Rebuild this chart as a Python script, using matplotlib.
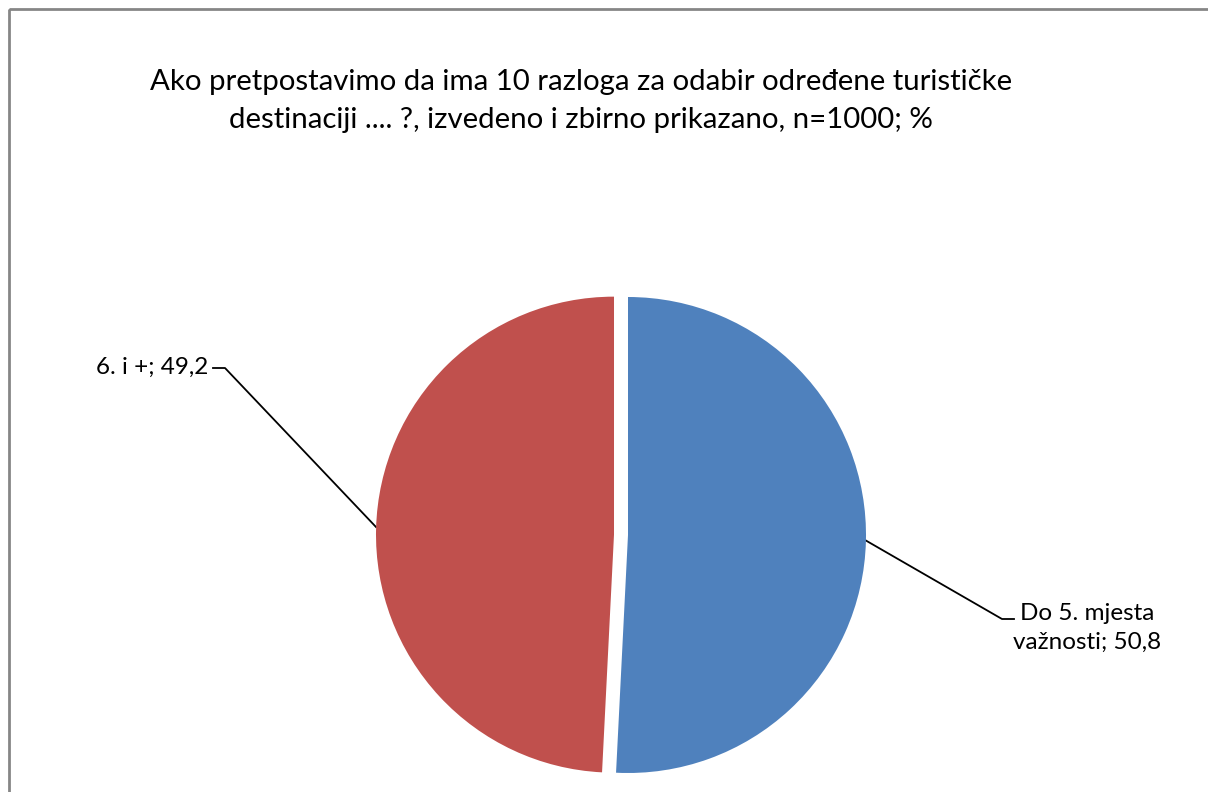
import matplotlib.pyplot as plt
from matplotlib.patches import Rectangle

# data
labels = ['Do 5. mjesta\nvažnosti', '6. i +']
values = [50.8, 49.2]
value_text = ['50,8', '49,2']
colors = ['#4F81BD', '#C0504D']
title = ('Ako pretpostavimo da ima 10 razloga za odabir određene turističke\n'
         'destinaciji .... ?, izvedeno i zbirno prikazano, n=1000; %')

W, H = 1208, 792
plt.rcParams['font.family'] = ['Lato', 'DejaVu Sans']

fig = plt.figure(figsize=(W / 100, H / 100), dpi=100)
ax = fig.add_axes([0, 0, 1, 1])
ax.set_xlim(0, W)
ax.set_ylim(H, 0)
ax.axis('off')

# outer chart border (cut at right/bottom like the source)
ax.add_patch(Rectangle((9, 9), W + 20, H + 20, fill=False,
                       edgecolor='#868686', linewidth=2))

ax.text(581, 101, title, ha='center', va='center', fontsize=21.2,
        linespacing=1.6)

# pie in a separate equal-aspect axes, 1 data unit = 1 pixel
pax = fig.add_axes([0, 0, 1, 1])
cx, cy, r = 628, H - 535, 238
pax.pie(values, colors=colors, startangle=90, counterclock=False,
        explode=[0, 14], center=(cx, cy), radius=r,
        wedgeprops=dict(linewidth=0))
pax.set_xlim(0, W)
pax.set_ylim(0, H)
pax.set_aspect('equal')
pax.axis('off')

# leader lines and labels (pixel coords, y down)
ax.plot([213, 225, 376], [368, 368, 527], color='black', linewidth=1.3)
ax.text(208, 367, labels[1] + '; ' + value_text[1], ha='right', va='center',
        fontsize=17.5)
ax.plot([865, 1002, 1014], [540, 619, 619], color='black', linewidth=1.3)
ax.text(1087, 628, labels[0] + '; ' + value_text[0], ha='center',
        va='center', fontsize=17.5, linespacing=1.45)

fig.savefig('out.png', dpi=100)
